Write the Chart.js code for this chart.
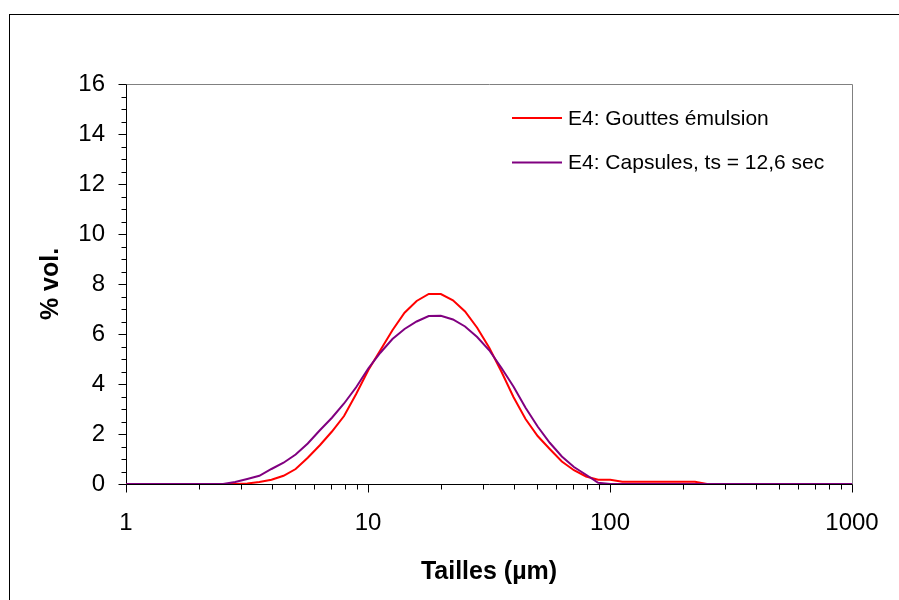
<!DOCTYPE html>
<html>
<head>
<meta charset="utf-8">
<title>E4 - distribution de tailles</title>
<script src="https://cdn.jsdelivr.net/npm/chart.js@4.4.1/dist/chart.umd.min.js"></script>
<style>
  html, body { margin: 0; padding: 0; background: #fff; }
  #wrap { width: 899px; height: 600px; }
</style>
</head>
<body>
<div id="wrap"><canvas id="chart" width="899" height="600"></canvas></div>
<script>
  'use strict';

  // Tailles (µm) - classes granulométriques
  var sizes = [1.002, 1.125, 1.262, 1.416, 1.589, 1.783, 2.000, 2.244, 2.518, 2.825,
    3.170, 3.557, 3.991, 4.477, 5.024, 5.637, 6.325, 7.096, 7.962, 8.934,
    10.024, 11.247, 12.619, 14.159, 15.887, 17.825, 20.000, 22.440, 25.179, 28.251,
    31.698, 35.566, 39.905, 44.774, 50.238, 56.368, 63.246, 70.963, 79.621, 89.337,
    100.237, 112.468, 126.191, 141.589, 158.866, 178.250, 200.000, 224.404, 251.785, 282.508,
    316.979, 355.656, 399.052, 447.744, 502.377, 563.677, 632.456, 709.627, 796.214, 893.367,
    1002.374];

  // % vol. - E4: Gouttes émulsion
  var gouttes = [0, 0, 0, 0, 0, 0, 0, 0, 0, 0,
    0.02, 0.08, 0.17, 0.33, 0.60, 1.05, 1.55, 2.10, 2.72, 3.60,
    4.55, 5.35, 6.15, 6.85, 7.32, 7.60, 7.60, 7.35, 6.90, 6.25,
    5.45, 4.50, 3.48, 2.60, 1.92, 1.40, 0.90, 0.55, 0.30, 0.17,
    0.17, 0.09, 0.09, 0.09, 0.09, 0.09, 0.09, 0.09, 0, 0,
    0, 0, 0, 0, 0, 0, 0, 0, 0, 0,
    0];

  // % vol. - E4: Capsules, ts = 12,6 sec
  var capsules = [0, 0, 0, 0, 0, 0, 0, 0, 0, 0.08,
    0.20, 0.33, 0.60, 0.85, 1.18, 1.62, 2.15, 2.65, 3.22, 3.87,
    4.62, 5.25, 5.80, 6.20, 6.50, 6.72, 6.73, 6.58, 6.30, 5.88,
    5.35, 4.65, 3.90, 3.05, 2.30, 1.65, 1.10, 0.68, 0.37, 0.05,
    0, 0, 0, 0, 0, 0, 0, 0, 0, 0,
    0, 0, 0, 0, 0, 0, 0, 0, 0, 0,
    0];

  var seriesNames = ['E4: Gouttes émulsion', 'E4: Capsules, ts = 12,6 sec'];
  var seriesColors = ['#ff0000', '#800080'];
  var xTicks = [1, 10, 100, 1000];
  var yTicks = [0, 2, 4, 6, 8, 10, 12, 14, 16];

  var FONT = "'Liberation Sans', Arial, sans-serif";
  Chart.defaults.font.family = FONT;
  Chart.defaults.color = '#000';

  function points(values) {
    return sizes.map(function (s, i) { return { x: s, y: values[i] }; });
  }

  // Frame, axes with major/minor tick marks, legend
  var decor = {
    id: 'decor',
    beforeDraw: function (chart) {
      var ctx = chart.ctx;
      ctx.save();
      ctx.fillStyle = '#fff';
      ctx.fillRect(0, 0, chart.width, chart.height);
      ctx.strokeStyle = '#000';
      ctx.lineWidth = 1;
      ctx.strokeRect(9.5, 14.5, 1000, 1000);
      ctx.restore();
    },
    beforeDatasetsDraw: function (chart) {
      var ctx = chart.ctx;
      var a = chart.chartArea;
      var xs = chart.scales.x;
      var ys = chart.scales.y;
      var L = Math.round(a.left) + 0.5, R = Math.round(a.right) + 0.5;
      var T = Math.round(a.top) + 0.5, B = Math.round(a.bottom) + 0.5;
      ctx.save();
      ctx.lineWidth = 1;
      ctx.strokeStyle = '#808080';
      ctx.beginPath();
      ctx.moveTo(L, T); ctx.lineTo(R, T); ctx.lineTo(R, B);
      ctx.stroke();
      ctx.strokeStyle = '#000';
      ctx.beginPath();
      ctx.moveTo(L, T); ctx.lineTo(L, B); ctx.lineTo(R, B);
      // y ticks every 0.5
      for (var v = 0; v <= 16; v += 0.5) {
        var py = Math.round(ys.getPixelForValue(v)) + 0.5;
        var len = (v % 2 === 0) ? 8 : 5;
        ctx.moveTo(L - len, py); ctx.lineTo(L, py);
      }
      // x ticks, log decades
      for (var d = 1; d <= 1000; d *= 10) {
        for (var k = 1; k <= 9; k++) {
          var val = k * d;
          if (val > 1000) break;
          var px = Math.round(xs.getPixelForValue(val)) + 0.5;
          var l2 = (k === 1) ? 8 : 5;
          ctx.moveTo(px, B); ctx.lineTo(px, B + l2);
        }
      }
      ctx.stroke();
      ctx.restore();
    },
    afterDraw: function (chart) {
      var ctx = chart.ctx;
      ctx.save();
      ctx.font = '21px ' + FONT;
      ctx.textBaseline = 'middle';
      ctx.fillStyle = '#000';
      var rows = [118, 162.5];
      for (var i = 0; i < seriesNames.length; i++) {
        ctx.strokeStyle = seriesColors[i];
        ctx.lineWidth = 2;
        ctx.beginPath();
        ctx.moveTo(512, rows[i]);
        ctx.lineTo(562, rows[i]);
        ctx.stroke();
        ctx.fillText(seriesNames[i], 568, rows[i] + 1);
      }
      ctx.restore();
    }
  };

  new Chart(document.getElementById('chart'), {
    type: 'line',
    data: {
      datasets: [
        { label: seriesNames[0], data: points(gouttes), borderColor: seriesColors[0],
          borderWidth: 2, pointRadius: 0, tension: 0, fill: false, order: 2 },
        { label: seriesNames[1], data: points(capsules), borderColor: seriesColors[1],
          borderWidth: 2, pointRadius: 0, tension: 0, fill: false, order: 1 }
      ]
    },
    options: {
      responsive: false,
      animation: false,
      layout: { padding: { left: 0, top: 84, right: 47, bottom: 0 } },
      plugins: { legend: { display: false }, tooltip: { enabled: false } },
      scales: {
        x: {
          type: 'logarithmic',
          min: 1,
          max: 1000,
          afterBuildTicks: function (scale) {
            scale.ticks = xTicks.map(function (v) { return { value: v }; });
          },
          afterFit: function (scale) { scale.height = 116; },
          grid: { display: false, drawTicks: true, tickLength: 8 },
          border: { display: false },
          ticks: {
            autoSkip: false,
            maxRotation: 0,
            padding: 17,
            font: { size: 24 },
            callback: function (v) { return String(v); }
          },
          title: {
            display: true,
            text: 'Tailles (µm)',
            font: { size: 25, weight: 'bold' },
            padding: { top: 13, bottom: 13 }
          }
        },
        y: {
          min: 0,
          max: 16,
          afterBuildTicks: function (scale) {
            scale.ticks = yTicks.map(function (v) { return { value: v }; });
          },
          afterFit: function (scale) { scale.width = 126; },
          grid: { display: false, drawTicks: true, tickLength: 8 },
          border: { display: false },
          ticks: {
            autoSkip: false,
            padding: 13,
            font: { size: 24 },
            callback: function (v) { return String(v); }
          },
          title: {
            display: true,
            text: '% vol.',
            font: { size: 25, weight: 'bold' },
            padding: { top: 36, bottom: 36 }
          }
        }
      }
    },
    plugins: [decor]
  });
</script>
</body>
</html>
